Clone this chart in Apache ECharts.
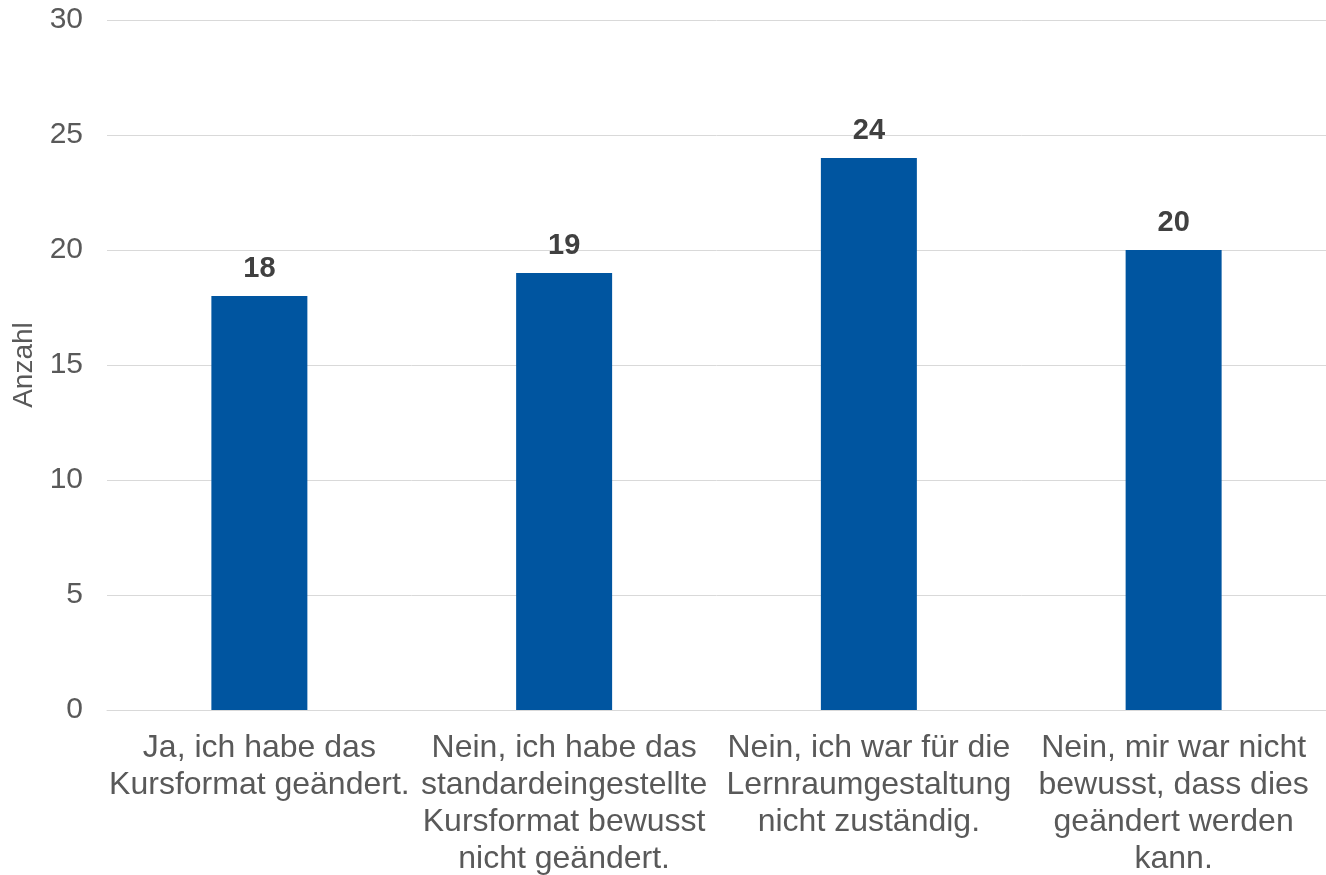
<!DOCTYPE html>
<html>
<head>
<meta charset="utf-8">
<script src="https://cdn.jsdelivr.net/npm/echarts@6/dist/echarts.min.js"></script>
<style>
  html, body { margin: 0; padding: 0; background: #fff; }
  #chart { width: 1326px; height: 875px; }
</style>
</head>
<body>
<div id="chart"></div>
<script>
// Antwortkategorien (Zeilenumbrüche wie im Original)
var categories = [
  'Ja, ich habe das\nKursformat geändert.',
  'Nein, ich habe das\nstandardeingestellte\nKursformat bewusst\nnicht geändert.',
  'Nein, ich war für die\nLernraumgestaltung\nnicht zuständig.',
  'Nein, mir war nicht\nbewusst, dass dies\ngeändert werden\nkann.'
];
var counts = [18, 19, 24, 20];
var yName = 'Anzahl';

var chart = echarts.init(document.getElementById('chart'));
var font = '"Liberation Sans", Arial, sans-serif';

chart.setOption({
  animation: false,
  grid: { left: 107, right: 0, top: 20, bottom: 165, outerBoundsMode: 'none' },
  xAxis: {
    type: 'category',
    data: categories,
    axisLine: { show: true, lineStyle: { color: '#d9d9d9', width: 1 } },
    axisTick: { show: false },
    axisLabel: {
      interval: 0,
      margin: 20,
      fontSize: 32,
      lineHeight: 36.8,
      color: '#595959',
      fontFamily: font
    }
  },
  yAxis: {
    type: 'value',
    min: 0,
    max: 30,
    interval: 5,
    name: yName,
    nameLocation: 'middle',
    nameRotate: 90,
    nameGap: 69,
    nameTextStyle: { fontSize: 28, color: '#595959', fontFamily: font },
    axisLine: { show: false },
    axisTick: { show: false },
    splitLine: { lineStyle: { color: '#d9d9d9', width: 1 } },
    axisLabel: { margin: 24, fontSize: 30, color: '#595959', fontFamily: font }
  },
  series: [{
    type: 'bar',
    data: counts,
    barWidth: '31.5%',
    itemStyle: { color: '#0055A0' },
    label: {
      show: true,
      position: 'top',
      distance: 13,
      fontSize: 29,
      fontWeight: 'bold',
      color: '#404040',
      fontFamily: font
    }
  }]
});
</script>
</body>
</html>
